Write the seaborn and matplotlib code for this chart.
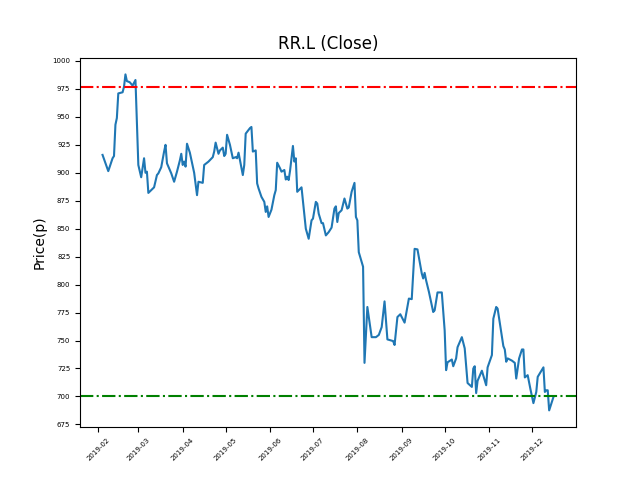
# RR.L closing price, Feb-Dec 2019, with resistance / support lines
import pandas as pd
import seaborn as sns
import matplotlib
matplotlib.use("Agg")
import matplotlib.pyplot as plt
import matplotlib.dates as mdates
from matplotlib.ticker import MultipleLocator

# 1. Data: days since 2019-02-01 and close price (pence)
start_date = "2019-02-01"
day_offsets = [
    3, 7, 10, 11, 12, 13, 14, 17, 18, 19, 20, 22, 24, 26, 28, 30, 32, 33, 34, 35,
    37, 39, 41, 42, 44, 46, 47, 48, 51, 53, 55, 57, 58, 59, 60, 61, 62, 64, 67, 69,
    70, 73, 74, 77, 80, 81, 82, 84, 85, 87, 88, 89, 90, 92, 94, 96, 97, 98, 101, 102,
    103, 106, 107, 108, 110, 111, 112, 114, 116, 117, 118, 119, 121, 123, 124, 125, 127, 128, 130, 131,
    132, 133, 134, 136, 137, 138, 139, 142, 145, 147, 149, 150, 152, 153, 154, 156, 157, 159, 161, 163,
    165, 166, 167, 168, 170, 172, 174, 175, 177, 179, 180, 181, 182, 185, 186, 188, 191, 194, 196, 198,
    200, 202, 206, 207, 209, 211, 214, 217, 219, 221, 223, 226, 227, 228, 229, 231, 234, 235, 237, 240,
    242, 243, 244, 247, 248, 250, 251, 254, 256, 258, 261, 262, 263, 264, 265, 268, 271, 272, 275, 276,
    278, 279, 281, 283, 284, 285, 286, 289, 291, 292, 294, 296, 297, 298, 300, 302, 304, 306, 307, 311,
    312, 313, 314, 315, 318,
]
close_prices = [
    916, 901.5, 913, 915, 943, 949, 971, 972, 977, 988, 982, 981, 978, 983, 907, 896, 913, 900, 901, 882,
    884.5, 887, 898, 899.5, 905, 919, 925, 908.5, 899.5, 892, 901, 911, 917, 907, 910, 905.5, 926, 918, 900, 880,
    892, 891, 907, 910, 914, 919, 927, 917, 920, 922.5, 915, 917, 934, 925, 913, 914, 913, 918, 898, 907,
    935, 940, 941, 919, 920, 890.5, 886, 878.5, 874, 865, 870, 860.5, 867, 880, 884.5, 909, 904, 901, 902.5, 894,
    896.5, 893.5, 902, 924, 910, 913, 883, 887, 850, 841, 857.5, 859, 874, 872.5, 863.5, 855, 855, 844, 847, 851,
    868, 870, 856, 864, 866.5, 877, 868, 869, 883, 891, 860.5, 857.5, 829, 816, 730, 780, 753, 753, 755, 762,
    785, 751, 749.5, 746, 771, 773.5, 766, 787.5, 787, 832, 831.5, 810, 805.5, 810.5, 804, 793.5, 775.5, 777, 793, 793,
    759, 723.5, 730.5, 733, 727, 734, 744, 753, 743, 712, 708.5, 725, 727, 703, 714, 723, 710, 726, 737, 769.5,
    780, 778.5, 762, 745, 742, 731, 734, 732, 730, 716, 734, 742, 742, 717, 719, 706, 694, 704, 717.5, 726,
    704, 705.5, 705.5, 687.5, 699.5,
]
resistance_level = 977
support_level = 700

df = pd.DataFrame({
    "Date": pd.Timestamp(start_date) + pd.to_timedelta(day_offsets, unit="D"),
    "Close": close_prices,
})

# 2. Plot the close price and the two horizontal levels
fig, ax = plt.subplots(figsize=(6.4, 4.8), dpi=100)
sns.lineplot(data=df, x="Date", y="Close", ax=ax, color="#1f77b4", linewidth=1.5)
ax.axhline(resistance_level, color="red", linestyle="-.", linewidth=1.5)
ax.axhline(support_level, color="green", linestyle="-.", linewidth=1.5)

# 3. Labels and ticks
ax.set_title("RR.L (Close)")
ax.set_xlabel("")
ax.set_ylabel("Price(p)")
ax.xaxis.set_major_locator(mdates.MonthLocator())
ax.xaxis.set_major_formatter(mdates.DateFormatter("%Y-%m"))
ax.yaxis.set_major_locator(MultipleLocator(25))
ax.tick_params(axis="x", labelsize=5, labelrotation=45)
ax.tick_params(axis="y", labelsize=5)

fig.savefig("out.png")
